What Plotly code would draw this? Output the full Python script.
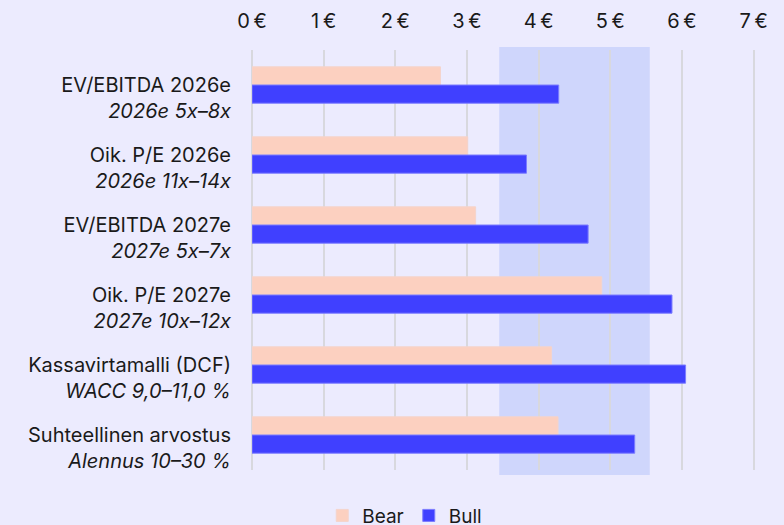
import plotly.graph_objects as go

# Valuation methods (main label + italic assumption line)
methods = [
    "EV/EBITDA 2026e",
    "Oik. P/E 2026e",
    "EV/EBITDA 2027e",
    "Oik. P/E 2027e",
    "Kassavirtamalli (DCF)",
    "Suhteellinen arvostus",
]
assumptions = [
    "2026e 5x–8x",
    "2026e 11x–14x",
    "2027e 5x–7x",
    "2027e 10x–12x",
    "WACC 9,0–11,0 %",
    "Alennus 10–30 %",
]

# Value per share, EUR
bear_values = [2.63, 3.01, 3.12, 4.88, 4.18, 4.27]
bull_values = [4.28, 3.83, 4.69, 5.86, 6.05, 5.34]

# Fair value range highlighted behind the bars
fair_range = [3.45, 5.55]

tick_vals = [0, 1, 2, 3, 4, 5, 6, 7]
tick_text = [f"{v}\u2009€" for v in tick_vals]

categories = [f"{m}<br><i>{a}</i>" for m, a in zip(methods, assumptions)]

BG = "#ECEBFE"
BEAR = "#FCD0C0"
BULL = "#4040FF"
FONT = "Inter, Roboto, sans-serif"

fig = go.Figure()
fig.add_trace(go.Bar(
    name="Bear", y=categories, x=bear_values, orientation="h",
    marker=dict(color=BEAR, line=dict(color="#F4D4CC", width=1)),
))
fig.add_trace(go.Bar(
    name="Bull", y=categories, x=bull_values, orientation="h",
    marker=dict(color=BULL, line=dict(color="#7C7CFF", width=1)),
))

fig.add_shape(
    type="rect", xref="x", yref="paper",
    x0=fair_range[0], x1=fair_range[1], y0=-0.012, y1=1.007,
    fillcolor="#CFD6FC", line=dict(width=0), layer="below",
)

fig.update_layout(
    width=784, height=525,
    paper_bgcolor=BG, plot_bgcolor=BG,
    font=dict(family=FONT, color="#1A1A1A", size=17),
    barmode="group", bargap=0.48, bargroupgap=0,
    margin=dict(l=252, r=16, t=50, b=55, autoexpand=False),
    showlegend=True,
    legend=dict(
        orientation="h", x=0.296, xanchor="center",
        yref="container", y=0.018, yanchor="middle",
        font=dict(size=19), bgcolor="rgba(0,0,0,0)",
        itemwidth=30, traceorder="normal",
    ),
    xaxis=dict(
        side="top", range=[0, 7.2],
        tickvals=tick_vals, ticktext=tick_text,
        showgrid=True, gridcolor="#D8D8DE", gridwidth=1.5,
        zeroline=True, zerolinecolor="#D8D8DE", zerolinewidth=1.5,
        showline=False, ticks="", tickfont=dict(size=20),
        ticklabelstandoff=17,
    ),
    yaxis=dict(
        autorange="reversed", showgrid=False, zeroline=False,
        ticks="", tickfont=dict(size=20), ticklabelstandoff=20,
        ticklabelshift=-13,
    ),
)

fig.write_html("out.html")
